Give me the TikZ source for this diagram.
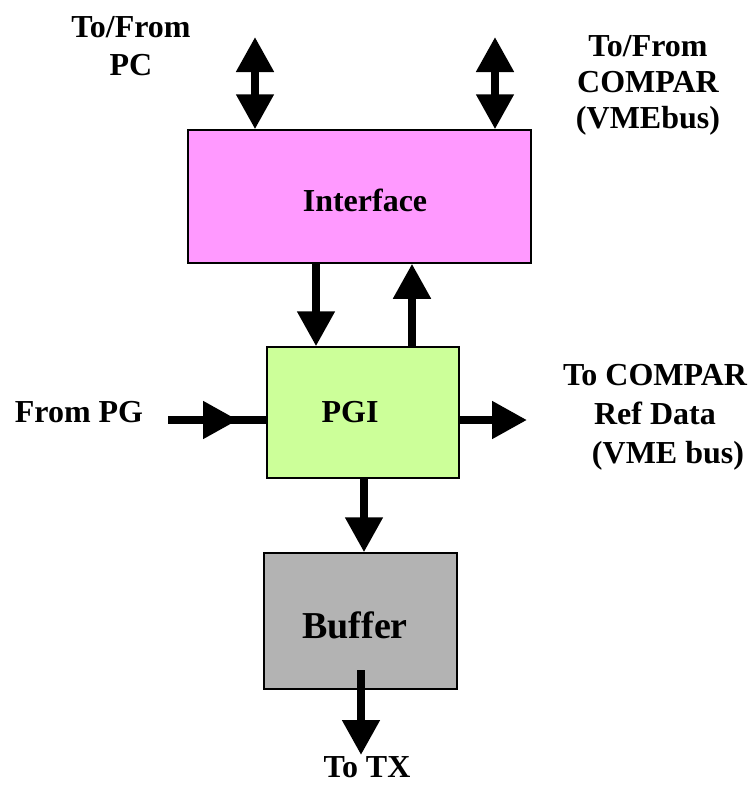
\documentclass[tikz,border=0pt]{standalone}
\usepackage{fontspec}
\setmainfont{Liberation Serif}
\usetikzlibrary{arrows.meta}
\definecolor{ifacefill}{HTML}{FF99FF}
\definecolor{pgifill}{HTML}{CCFF99}
\definecolor{buffill}{HTML}{B3B3B3}
\begin{document}
\begin{tikzpicture}[x=1pt,y=-1pt,
  box/.style={draw=black,line width=1.5pt,inner sep=0pt},
  lbl/.style={font=\bfseries\fontsize{32}{38}\selectfont,inner sep=0pt,align=center,anchor=base},
  flow/.style={line width=8pt,-{Triangle[length=35pt,width=36pt]}},
  flowtwo/.style={line width=8pt,{Triangle[length=35pt,width=36pt]}-{Triangle[length=35pt,width=36pt]}},
  shaft/.style={line width=8pt}]
\useasboundingbox (0,0) rectangle (752,787);
% boxes
\node[box,fill=ifacefill,minimum width=343pt,minimum height=133pt] (iface) at (359.5,196.5) {};
\node[box,fill=pgifill,minimum width=192pt,minimum height=131pt] (pgi) at (363,412.5) {};
\node[box,fill=buffill,minimum width=193pt,minimum height=136pt] (buf) at (360.5,621) {};
% box labels
\node[lbl] (ifaceLbl) at (365,211) {Interface};
\node[lbl] (pgiLbl) at (350,422) {PGI};
\node[lbl,font=\bfseries\fontsize{38}{44}\selectfont] (bufLbl) at (355,638) {Buffer};
% outer labels (base anchor = last line)
\node[lbl] (pcLbl) at (131,75) {To/From\\PC};
\node[lbl,font=\bfseries\fontsize{32}{36}\selectfont] (vmeLbl) at (648,128) {To/From\\COMPAR\\(VMEbus)};
\node[lbl] (pgLbl) at (79,422) {From PG};
\node[lbl,font=\bfseries\fontsize{32}{39}\selectfont] (refLbl) at (655,463) {To COMPAR\\Ref Data\\\hspace*{26pt}(VME bus)};
\node[lbl] (txLbl) at (367,777) {To TX};
% connectors
\coordinate (pcTop) at (255,37);
\draw[flowtwo] (pcTop) -- (pcTop |- iface.north);
\coordinate (vmeTop) at (495,37);
\draw[flowtwo] (vmeTop) -- (vmeTop |- iface.north);
\coordinate (dn) at (316,0);
\draw[flow] (dn |- iface.south) -- (dn |- pgi.north);
\coordinate (up) at (412,0);
\draw[flow] (up |- pgi.north) -- (up |- iface.south);
\coordinate (rtip) at (527,420);
\draw[flow] (pgi.east |- rtip) -- (rtip);
\coordinate (pgStart) at (168,420);
\coordinate (pgMid) at (238,420);
\coordinate (pgJoin) at (226,420);
\draw[flow] (pgStart) -- (pgMid);
\draw[shaft] (pgJoin) -- (pgi.west |- pgJoin);
\coordinate (pb) at (364,0);
\draw[flow] (pb |- pgi.south) -- (pb |- buf.north);
\coordinate (txStart) at (361,670);
\coordinate (txTip) at (361,755);
\draw[flow] (txStart) -- (txTip);
\end{tikzpicture}
\end{document}
